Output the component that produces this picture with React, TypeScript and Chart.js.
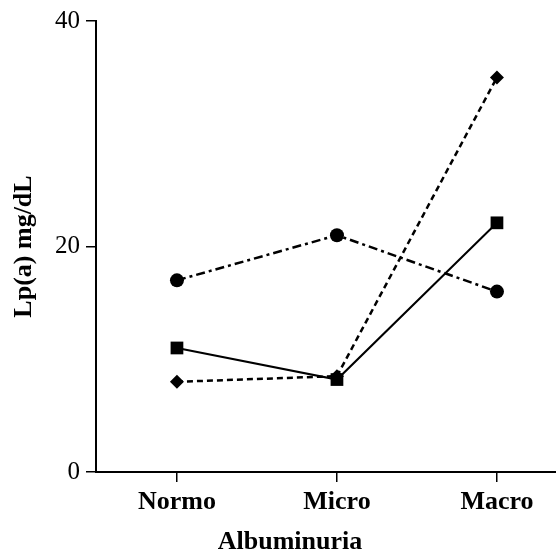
import React, { useEffect, useRef } from "react";
import { Chart, registerables } from "chart.js";

Chart.register(...registerables);

const categories = ["Normo", "Micro", "Macro"];
const squareSeries = [11, 8.2, 22.1];
const circleSeries = [17, 21, 16];
const diamondSeries = [8, 8.5, 35];
const yTickValues = [0, 20, 40];
const xTitle = "Albuminuria";
const yTitle = "Lp(a) mg/dL";

const SERIF = '"Liberation Serif", "Times New Roman", serif';

const toPoints = (vals: number[]) => vals.map((y, i) => ({ x: i + 1, y }));

const xTitlePlugin = {
  id: "xTitlePlugin",
  afterDraw(chart: any) {
    const ctx = chart.ctx;
    ctx.save();
    ctx.font = `bold 26px ${SERIF}`;
    ctx.fillStyle = "#000";
    ctx.textAlign = "center";
    ctx.textBaseline = "alphabetic";
    ctx.fillText(xTitle, 290, 549);
    ctx.restore();
  },
};

export default function App() {
  const ref = useRef<HTMLCanvasElement | null>(null);

  useEffect(() => {
    document.body.style.margin = "0";
    const canvas = ref.current;
    if (!canvas) return;
    const chart = new Chart(canvas, {
      type: "line",
      data: {
        datasets: [
          {
            label: "squares",
            data: toPoints(squareSeries),
            borderColor: "#000",
            backgroundColor: "#000",
            borderWidth: 2,
            pointStyle: "rect",
            pointRadius: 9,
            pointBackgroundColor: "#000",
            pointBorderColor: "#000",
            pointBorderWidth: 0,
          },
          {
            label: "circles",
            data: toPoints(circleSeries),
            borderColor: "#000",
            backgroundColor: "#000",
            borderWidth: 2.5,
            borderDash: [9, 4, 3, 4],
            pointStyle: "circle",
            pointRadius: 7,
            pointBackgroundColor: "#000",
            pointBorderColor: "#000",
            pointBorderWidth: 0,
          },
          {
            label: "diamonds",
            data: toPoints(diamondSeries),
            borderColor: "#000",
            backgroundColor: "#000",
            borderWidth: 2.5,
            borderDash: [6, 4],
            pointStyle: "rectRot",
            pointRadius: 7,
            pointBackgroundColor: "#000",
            pointBorderColor: "#000",
            pointBorderWidth: 0,
          },
        ],
      },
      options: {
        responsive: false,
        animation: false,
        layout: { autoPadding: false, padding: { top: 21, right: 0, left: 0, bottom: 0 } },
        plugins: {
          legend: { display: false },
          tooltip: { enabled: false },
          title: { display: false },
        },
        scales: {
          x: {
            type: "linear",
            min: 0.494,
            max: 3.369,
            afterBuildTicks: (scale: any) => {
              scale.ticks = categories.map((_, i) => ({ value: i + 1 }));
            },
            afterFit: (scale: any) => {
              scale.height = 80;
              scale.paddingLeft = 0;
              scale.paddingRight = 0;
            },
            ticks: {
              autoSkip: false,
              maxRotation: 0,
              padding: 5,
              color: "#000",
              font: { family: SERIF, size: 26, weight: "bold" },
              callback: (v: any) => categories[Number(v) - 1] ?? "",
            },
            grid: {
              display: true,
              drawOnChartArea: false,
              drawTicks: true,
              tickLength: 10,
              color: "#000",
              lineWidth: 1.5,
            },
            border: { display: true, color: "#000", width: 2 },
          },
          y: {
            type: "linear",
            min: 0,
            max: 40,
            afterBuildTicks: (scale: any) => {
              scale.ticks = yTickValues.map((v) => ({ value: v }));
            },
            afterFit: (scale: any) => {
              scale.width = 96;
            },
            ticks: {
              padding: 6,
              color: "#000",
              font: { family: SERIF, size: 25 },
            },
            grid: {
              display: true,
              drawOnChartArea: false,
              drawTicks: true,
              tickLength: 10,
              color: "#000",
              lineWidth: 1.5,
            },
            border: { display: true, color: "#000", width: 2 },
            title: {
              display: true,
              text: yTitle,
              color: "#000",
              font: { family: SERIF, size: 26, weight: "bold" },
              padding: { top: 9, bottom: 0 },
            },
          },
        },
      },
      plugins: [xTitlePlugin],
    } as any);
    return () => chart.destroy();
  }, []);

  return (
    <div style={{ width: 556, height: 552 }}>
      <canvas ref={ref} width={556} height={552} style={{ display: "block" }} />
    </div>
  );
}
